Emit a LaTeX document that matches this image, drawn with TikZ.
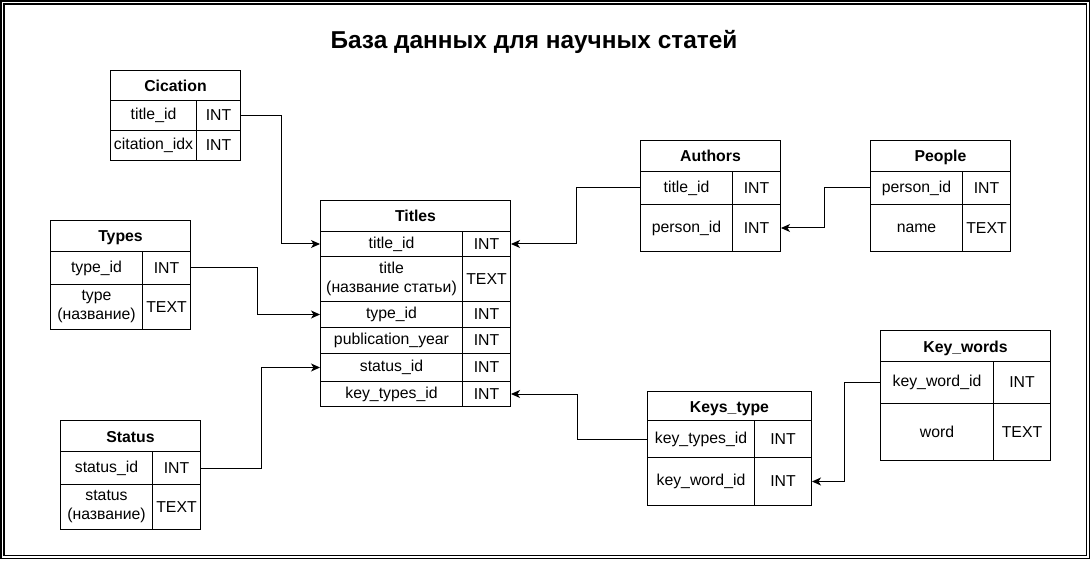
\documentclass[tikz,border=0pt]{standalone}
\usepackage{fontspec}
\setmainfont{Liberation Sans}
\usetikzlibrary{arrows.meta}
\newcommand\cellfont{\fontsize{15.8}{19}\selectfont}
\newcommand\headfont{\bfseries\fontsize{24.4}{29}\selectfont}

\begin{document}
\begin{tikzpicture}[x=1pt, y=-1pt,
		cell/.style={draw, line width=1pt, inner sep=0pt, anchor=north west, align=center, font=\cellfont},
		head/.style={cell, font=\cellfont\bfseries, text height=12pt, text depth=0pt},
		link/.style={line width=1pt, -{Stealth[length=9pt, width=8pt, inset=2.5pt]}}]
			\useasboundingbox (0,0) rectangle (1092,561);
			\draw[line width=1.2pt] (1,1) rectangle (1089.5,558.5);
			\draw[line width=1.2pt] (4,4) rectangle (1086.5,555.5);
			
			\node[font=\headfont](title) at (534,42) {База данных для научных статей};
			
			\node[head, minimum width=130pt, minimum height=30pt](cic0) at (110,70) {Cication};
			\node[cell, minimum width=86pt, minimum height=30pt](cic1n) at (110,100) {title\_id};
			\node[cell, minimum width=44pt, minimum height=30pt](cic1t) at (196,100) {INT};
			\node[cell, minimum width=86pt, minimum height=30pt](cic2n) at (110,130) {citation\_idx};
			\node[cell, minimum width=44pt, minimum height=30pt](cic2t) at (196,130) {INT};
			
			\node[head, minimum width=190pt, minimum height=31pt](ti0) at (320,200) {Titles};
			\node[cell, minimum width=142pt, minimum height=25pt](ti1n) at (320,231) {title\_id};
			\node[cell, minimum width=48pt, minimum height=25pt](ti1t) at (462,231) {INT};
			\node[cell, minimum width=142pt, minimum height=45pt](ti2n) at (320,256) {title\\(название статьи)};
			\node[cell, minimum width=48pt, minimum height=45pt](ti2t) at (462,256) {TEXT};
			\node[cell, minimum width=142pt, minimum height=26pt](ti3n) at (320,301) {type\_id};
			\node[cell, minimum width=48pt, minimum height=26pt](ti3t) at (462,301) {INT};
			\node[cell, minimum width=142pt, minimum height=26pt](ti4n) at (320,327) {publication\_year};
			\node[cell, minimum width=48pt, minimum height=26pt](ti4t) at (462,327) {INT};
			\node[cell, minimum width=142pt, minimum height=28pt](ti5n) at (320,353) {status\_id};
			\node[cell, minimum width=48pt, minimum height=28pt](ti5t) at (462,353) {INT};
			\node[cell, minimum width=142pt, minimum height=25pt](ti6n) at (320,381) {key\_types\_id};
			\node[cell, minimum width=48pt, minimum height=25pt](ti6t) at (462,381) {INT};
			
			\node[head, minimum width=140pt, minimum height=31pt](ty0) at (50,220) {Types};
			\node[cell, minimum width=92pt, minimum height=33pt](ty1n) at (50,251) {type\_id};
			\node[cell, minimum width=48pt, minimum height=33pt](ty1t) at (142,251) {INT};
			\node[cell, minimum width=92pt, minimum height=45pt](ty2n) at (50,284) {type\\(название)};
			\node[cell, minimum width=48pt, minimum height=45pt](ty2t) at (142,284) {TEXT};
			
			\node[head, minimum width=140pt, minimum height=31pt](st0) at (60,420) {Status};
			\node[cell, minimum width=92pt, minimum height=33pt](st1n) at (60,451) {status\_id};
			\node[cell, minimum width=48pt, minimum height=33pt](st1t) at (152,451) {INT};
			\node[cell, minimum width=92pt, minimum height=45pt](st2n) at (60,484) {status\\(название)};
			\node[cell, minimum width=48pt, minimum height=45pt](st2t) at (152,484) {TEXT};
			
			\node[head, minimum width=140pt, minimum height=31pt](au0) at (640,140) {Authors};
			\node[cell, minimum width=92pt, minimum height=33pt](au1n) at (640,171) {title\_id};
			\node[cell, minimum width=48pt, minimum height=33pt](au1t) at (732,171) {INT};
			\node[cell, minimum width=92pt, minimum height=47pt](au2n) at (640,204) {person\_id};
			\node[cell, minimum width=48pt, minimum height=47pt](au2t) at (732,204) {INT};
			
			\node[head, minimum width=140pt, minimum height=31pt](pe0) at (870,140) {People};
			\node[cell, minimum width=92pt, minimum height=33pt](pe1n) at (870,171) {person\_id};
			\node[cell, minimum width=48pt, minimum height=33pt](pe1t) at (962,171) {INT};
			\node[cell, minimum width=92pt, minimum height=47pt](pe2n) at (870,204) {name};
			\node[cell, minimum width=48pt, minimum height=47pt](pe2t) at (962,204) {TEXT};
			
			\node[head, minimum width=170pt, minimum height=31pt](kw0) at (880,330) {Key\_words};
			\node[cell, minimum width=113pt, minimum height=42pt](kw1n) at (880,361) {key\_word\_id};
			\node[cell, minimum width=57pt, minimum height=42pt](kw1t) at (993,361) {INT};
			\node[cell, minimum width=113pt, minimum height=57pt](kw2n) at (880,403) {word};
			\node[cell, minimum width=57pt, minimum height=57pt](kw2t) at (993,403) {TEXT};
			
			\node[head, minimum width=164pt, minimum height=29pt](kt0) at (647,391) {Keys\_type};
			\node[cell, minimum width=107pt, minimum height=37pt](kt1n) at (647,420) {key\_types\_id};
			\node[cell, minimum width=57pt, minimum height=37pt](kt1t) at (754,420) {INT};
			\node[cell, minimum width=107pt, minimum height=48pt](kt2n) at (647,457) {key\_word\_id};
			\node[cell, minimum width=57pt, minimum height=48pt](kt2t) at (754,457) {INT};
			
			\draw[link] (cic1t.east) -- ++(40,0) |- (ti1n.west);
			\draw[link] (ty1t.east) -- ++(66,0) |- (ti3n.west);
			\draw[link] (st1t.east) -- ++(60,0) |- (ti5n.west);
			\draw[link] (au1n.west) -- ++(-64,0) |- (ti1t.east);
			\draw[link] (pe1n.west) -- ++(-46,0) |- (au2t.east);
			\draw[link] (kt1n.west) -- ++(-70,0) |- (ti6t.east);
			\draw[link] (kw1n.west) -- ++(-36,0) |- (kt2t.east);
		\end{tikzpicture}
\end{document}
